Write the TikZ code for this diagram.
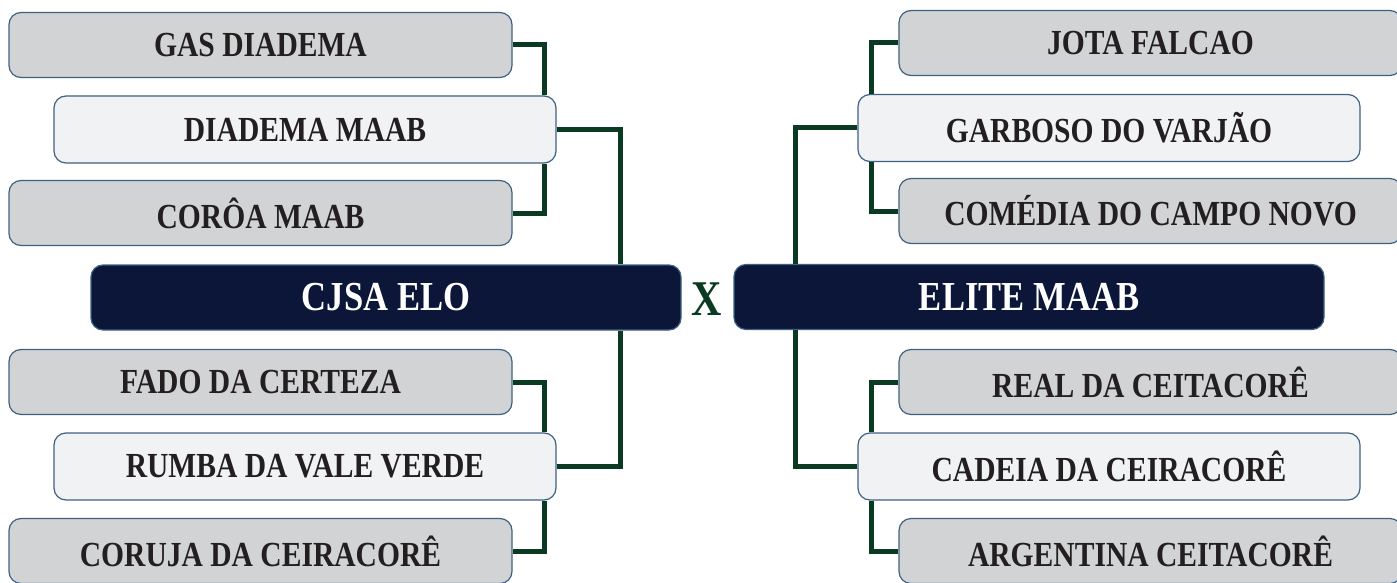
\documentclass[tikz,border=0pt]{standalone}
\usepackage{fontspec}
\newfontfamily\labfont[FakeStretch=0.84]{Liberation Serif}
\definecolor{boxgray}{HTML}{D1D3D4}
\definecolor{boxlight}{HTML}{F1F2F4}
\definecolor{boxnavy}{HTML}{0B1638}
\definecolor{edgeblue}{HTML}{3E6182}
\definecolor{linkgreen}{HTML}{0B3A22}
\definecolor{txtdark}{HTML}{231F20}
\begin{document}
\begin{tikzpicture}[x=0.5pt,y=-0.5pt,
  base/.style={draw=edgeblue, line width=0.6pt, rounded corners=6pt, inner sep=0pt,
    minimum height=32.5pt, font=\labfont\bfseries\fontsize{17.6}{20}\selectfont, text=txtdark},
  graybox/.style={base, fill=boxgray, minimum width=251.5pt},
  lightbox/.style={base, fill=boxlight, minimum width=251pt, minimum height=33.5pt},
  navybox/.style={base, fill=boxnavy, minimum width=295pt, text=white,
    font=\labfont\bfseries\fontsize{20.6}{24}\selectfont},
  link/.style={draw=linkgreen, line width=2.5pt}
]
\useasboundingbox (0,0) rectangle (1397,583);
\fill[white] (0,0) rectangle (1397,583);
% left
\node[graybox]  (gas)    at (260.5,45)   {GAS DIADEMA};
\node[lightbox] (dmaab)  at (305,129.5)  {DIADEMA MAAB};
\node[graybox]  (coroa)  at (260.5,213)  {CORÔA MAAB};
\node[navybox]  (cjsa)   at (386,297.5)  {CJSA ELO};
\node[graybox]  (fado)   at (260.5,382)  {FADO DA CERTEZA};
\node[lightbox] (rumba)  at (305,466.5)  {RUMBA DA VALE VERDE};
\node[graybox]  (coruja) at (260.5,551)  {CORUJA DA CEIRACORÊ};
% right
\node[graybox]  (jota)    at (1150.5,43)  {JOTA FALCAO};
\node[lightbox] (garb)    at (1109,128)   {GARBOSO DO VARJÃO};
\node[graybox]  (comedia) at (1150.5,211) {COMÉDIA DO CAMPO NOVO};
\node[navybox]  (elite)   at (1029,297)   {ELITE MAAB};
\node[graybox]  (real)    at (1150.5,382) {REAL DA CEITACORÊ};
\node[lightbox] (cadeia)  at (1109,466.5) {CADEIA DA CEIRACORÊ};
\node[graybox]  (argent)  at (1150.5,551) {ARGENTINA CEITACORÊ};
% versus
\node[font=\labfont\bfseries\fontsize{25}{28}\selectfont, text=linkgreen, inner sep=0pt] (vs) at (706.5,299) {X};
% connector columns
\coordinate (lx) at (544,0);
\coordinate (mx) at (620,0);
\coordinate (rx) at (871,0);
\coordinate (nx) at (795,0);
% left links
\draw[link] (gas.east) -| (dmaab.north -| lx);
\draw[link] (dmaab.south -| lx) |- (coroa.east);
\draw[link] (dmaab.east) -| (cjsa.north -| mx);
\draw[link] (fado.east) -| (rumba.north -| lx);
\draw[link] (rumba.south -| lx) |- (coruja.east);
\draw[link] (rumba.east) -| (cjsa.south -| mx);
% right links
\draw[link] (jota.west) -| (garb.north -| rx);
\draw[link] (garb.south -| rx) |- (comedia.west);
\draw[link] (garb.west) -| (elite.north -| nx);
\draw[link] (real.west) -| (cadeia.north -| rx);
\draw[link] (cadeia.south -| rx) |- (argent.west);
\draw[link] (cadeia.west) -| (elite.south -| nx);
\end{tikzpicture}
\end{document}
